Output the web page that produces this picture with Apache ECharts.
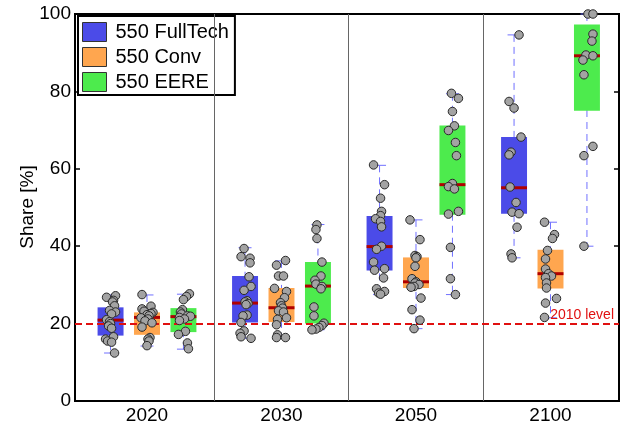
<!DOCTYPE html>
<html><head><meta charset="utf-8">
<script src="https://cdn.jsdelivr.net/npm/echarts@6/dist/echarts.min.js"></script>
<style>html,body{margin:0;padding:0;background:#fff}#c{width:627px;height:433px}</style>
</head><body><div id="c"></div>
<script>
// ---------------- DATA ----------------
const years = ['2020', '2030', '2050', '2100'];
const seriesNames = ['550 FullTech', '550 Conv', '550 EERE'];
const yTickLabels = ['0', '20', '40', '60', '80', '100'];
const refLevel = 20;
const refLabel = '2010 level';
const yName = 'Share [%]';

// box statistics per year: [min, q1, median, q3, max]
const fullTechStats = [[12.4, 16.9, 20.9, 24.2, 27.4], [16.2, 20.3, 25.3, 32.3, 39.6], [27.5, 33.7, 39.9, 47.8, 60.9], [37.0, 48.4, 55.1, 68.2, 94.6]];
const convStats     = [[14.2, 17.1, 21.6, 22.9, 27.4], [16.2, 20.4, 24.1, 29.2, 36.2], [18.7, 29.2, 30.8, 37.1, 46.8], [21.5, 29.1, 32.9, 39.1, 46.2]];
const eereStats     = [[13.4, 17.8, 21.8, 24.0, 27.6], [18.4, 20.0, 29.7, 35.9, 45.6], [27.5, 48.1, 55.9, 71.2, 79.4], [40.0, 75.0, 89.2, 97.3, 100.0]];

// individual scenario points per year: [share, jitter] (jitter in 1/26 of a box width)
const fullTech2020 = [[27.2,5],[26.8,-4],[26.0,3],[25.6,2],[24.6,4],[23.4,-1],[23.0,5],[22.5,1],[21.0,-4],[20.5,-1],[20.0,0],[19.4,-2],[18.8,1],[16.6,3],[16.0,-5],[15.5,-3],[15.2,1],[12.4,4]];
const conv2020     = [[27.5,-5],[24.5,4],[23.8,-5],[23.2,-3],[22.9,6],[22.6,4],[22.3,0],[22.0,2],[21.5,-6],[21.2,1],[20.7,-2],[20.2,5],[19.1,-5],[16.4,3],[16.0,1],[15.5,2],[14.3,0]];
const eere2020     = [[27.7,6],[27.0,3],[26.2,0],[23.6,-1],[23.0,-3],[22.5,-2],[22.0,4],[21.9,7],[21.6,-4],[21.2,1],[20.8,-4],[18.0,2],[17.2,-5],[15.0,4],[13.5,5]];
const fullTech2030 = [[39.4,-1],[37.3,-4],[36.9,5],[35.7,5],[32.1,4],[29.6,6],[28.6,-1],[25.9,2],[25.6,0],[25.2,3],[24.9,1],[22.2,2],[22.0,-2],[20.3,-4],[18.1,-1],[17.5,-5],[16.6,-4],[16.2,6]];
const conv2030     = [[36.3,4],[35.1,-5],[32.3,-3],[32.3,2],[29.1,-7],[28.3,5],[26.7,3],[25.4,-1],[24.6,0],[24.0,1],[23.3,-3],[23.0,2],[21.5,5],[21.1,-4],[19.7,-5],[17.1,-4],[16.4,-5],[16.4,4]];
const eere2030     = [[45.5,-1],[44.3,-2],[42.0,-1],[35.9,4],[32.3,3],[31.2,-3],[30.2,-2],[29.6,4],[29.0,3],[24.3,-4],[22.0,-4],[20.1,6],[19.5,4],[19.0,1],[18.6,-2],[18.4,-6]];
const fullTech2050 = [[61.0,-6],[55.9,5],[52.4,1],[49.0,2],[47.9,1],[47.1,-4],[46.4,1],[45.0,2],[40.0,2],[39.2,-3],[35.9,-6],[34.2,5],[33.8,-5],[31.8,4],[29.0,-3],[28.3,5],[27.9,-1],[27.6,1]];
const conv2050     = [[46.8,-6],[41.7,4],[37.6,-1],[37.3,1],[37.0,0],[34.8,-1],[31.6,-4],[30.8,0],[30.5,-1],[30.1,3],[29.6,-2],[29.4,-5],[26.6,5],[23.6,-4],[20.9,4],[18.7,-2]];
const eere2050     = [[79.5,-1],[78.2,6],[74.8,0],[71.1,2],[69.9,-4],[66.8,3],[63.4,4],[56.2,0],[55.4,-4],[54.8,2],[49.0,6],[48.3,-4],[39.7,-2],[31.6,-2],[27.5,3]];
const fullTech2100 = [[94.6,5],[77.4,-5],[75.7,0],[68.2,7],[64.3,-3],[63.6,-5],[55.3,-4],[51.3,2],[48.8,-2],[48.4,5],[44.9,3],[38.0,-3],[37.0,-2]];
const conv2100     = [[46.2,-6],[43.0,4],[42.0,2],[38.9,-3],[36.7,-5],[34.1,-5],[32.9,-2],[32.3,1],[31.9,-5],[30.5,-4],[29.2,-4],[26.5,6],[25.3,-5],[21.6,-6]];
const eere2100     = [[100.0,1],[100.0,6],[94.8,6],[93.0,5],[89.4,-1],[89.2,6],[88.1,-4],[84.3,-3],[65.8,6],[63.4,-3],[40.0,-3]];

// ---------------- STYLE / LAYOUT ----------------
const COLORS = ['#4b4be8', '#ffa64f', '#4deb4d'];
const MEDIAN = '#b00000';
const WHISK = '#7070ff';
const FONT = 'Liberation Sans, Arial, sans-serif';
const OFFSETS = [-0.271, 0, 0.271];
const BOX_W = 0.193;

const statsAll = [fullTechStats, convStats, eereStats];
const pointsAll = [
  [fullTech2020, fullTech2030, fullTech2050, fullTech2100],
  [conv2020, conv2030, conv2050, conv2100],
  [eere2020, eere2030, eere2050, eere2100]
];

function boxRender(color) {
  return function (params, api) {
    const x = api.value(0);
    const mn = api.coord([x, api.value(1)]);
    const q1 = api.coord([x, api.value(2)]);
    const md = api.coord([x, api.value(3)]);
    const q3 = api.coord([x, api.value(4)]);
    const mx = api.coord([x, api.value(5)]);
    const w = api.size([BOX_W, 0])[0];
    const cx = mn[0];
    return {
      type: 'group',
      children: [
        { type: 'line', shape: { x1: cx, y1: mx[1], x2: cx, y2: mn[1] }, style: { stroke: WHISK, lineWidth: 1, lineDash: [7, 5] } },
        { type: 'line', shape: { x1: cx - w / 4, y1: mx[1], x2: cx + w / 4, y2: mx[1] }, style: { stroke: WHISK, lineWidth: 1 } },
        { type: 'line', shape: { x1: cx - w / 4, y1: mn[1], x2: cx + w / 4, y2: mn[1] }, style: { stroke: WHISK, lineWidth: 1 } },
        { type: 'rect', shape: { x: cx - w / 2, y: q3[1], width: w, height: q1[1] - q3[1] }, style: { fill: color } },
        { type: 'line', shape: { x1: cx - w / 2, y1: md[1], x2: cx + w / 2, y2: md[1] }, style: { stroke: MEDIAN, lineWidth: 3 } }
      ]
    };
  };
}

const series = [];
seriesNames.forEach((name, s) => {
  series.push({
    name: name,
    type: 'custom',
    z: 2,
    itemStyle: { color: COLORS[s] },
    renderItem: boxRender(COLORS[s]),
    encode: { x: 0, y: [1, 2, 3, 4, 5] },
    data: statsAll[s].map((st, g) => [g + 1 + OFFSETS[s]].concat(st)),
    markLine: s === 0 ? {
      silent: true, symbol: 'none', animation: false,
      label: { show: false },
      lineStyle: { color: '#666', type: 'solid', width: 1 },
      data: [{ xAxis: 1.5 }, { xAxis: 2.5 }, { xAxis: 3.5 }]
    } : undefined
  });
});
series.push({
  name: 'ref', type: 'line', data: [], z: 4,
  markLine: {
    silent: true, symbol: 'none', animation: false,
    lineStyle: { color: '#e01010', type: [7, 4], width: 2 },
    label: { show: true, position: 'insideEndTop', formatter: refLabel, color: '#e01010', fontSize: 14, fontFamily: FONT, distance: [5, 1] },
    data: [{ yAxis: refLevel }]
  }
});
seriesNames.forEach((name, s) => {
  const pts = [];
  pointsAll[s].forEach((arr, g) => {
    arr.forEach(p => pts.push([g + 1 + OFFSETS[s] + p[1] * BOX_W / 26, p[0]]));
  });
  series.push({
    name: name + ' pts', type: 'scatter', z: 5,
    symbolSize: 8.5,
    itemStyle: { color: '#a3a3a3', borderColor: '#2a2a2a', borderWidth: 1, opacity: 1 },
    data: pts
  });
});

const chart = echarts.init(document.getElementById('c'), null, { renderer: 'canvas' });
chart.setOption({
  animation: false,
  backgroundColor: '#fff',
  textStyle: { fontFamily: FONT },
  grid: { left: 75, right: 8, top: 14, bottom: 32, show: true, borderColor: '#000', borderWidth: 2, backgroundColor: 'transparent' },
  graphic: [{
    type: 'text', x: 28, y: 207, rotation: Math.PI / 2,
    style: { text: yName, fill: '#000', font: '19px ' + FONT, textAlign: 'center', textVerticalAlign: 'middle' }
  }],
  legend: {
    data: seriesNames, orient: 'vertical', left: 78, top: 16,
    icon: 'rect', itemWidth: 24, itemHeight: 19, itemGap: 5,
    padding: [6, 6, 3, 4],
    backgroundColor: '#fff', borderColor: '#000', borderWidth: 2,
    itemStyle: { borderColor: '#333', borderWidth: 1 },
    textStyle: { fontSize: 20, color: '#000', fontFamily: FONT, padding: [0, 0, 0, 4] }
  },
  xAxis: [{
    type: 'value', min: 0.4647, max: 4.5093,
    axisLine: { show: false }, axisTick: { show: false }, splitLine: { show: false },
    axisLabel: { customValues: [1, 2, 3, 4], formatter: v => years[Math.round(v) - 1], fontSize: 19, color: '#000', margin: 5 }
  }],
  yAxis: [{
    type: 'value', min: 0, max: 100, interval: 20,
    axisLine: { show: false }, splitLine: { show: false },
    axisTick: { show: true, inside: true, length: 5, lineStyle: { color: '#000', width: 1.5 } },
    axisLabel: { fontSize: 19, color: '#000', margin: 4, formatter: v => yTickLabels[Math.round(v / 20)] }
  }, {
    type: 'value', min: 0, max: 100, interval: 20, position: 'right',
    axisLine: { show: false }, splitLine: { show: false }, axisLabel: { show: false },
    axisTick: { show: true, inside: true, length: 5, lineStyle: { color: '#000', width: 1.5 } }
  }],
  series: series
});
</script></body></html>
